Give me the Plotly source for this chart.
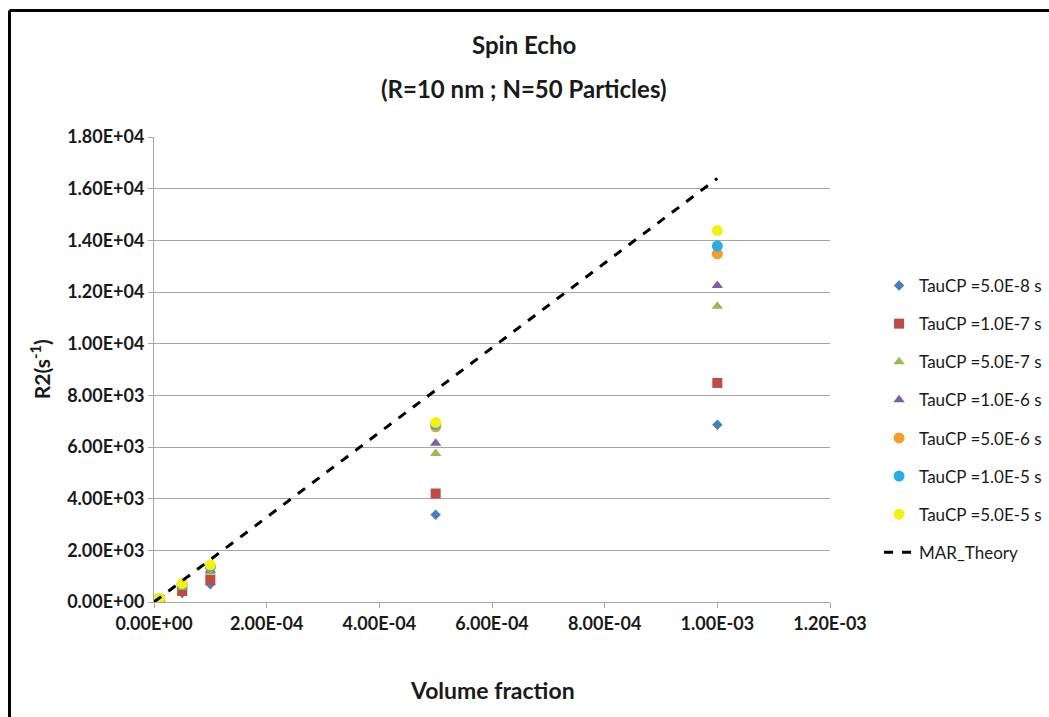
import plotly.graph_objects as go

# ---- data ----
volume_fraction = [1e-6, 5e-6, 1e-5, 5e-5, 1e-4, 5e-4, 1e-3]

series_names = [
    "TauCP =5.0E-8 s", "TauCP =1.0E-7 s", "TauCP =5.0E-7 s", "TauCP =1.0E-6 s",
    "TauCP =5.0E-6 s", "TauCP =1.0E-5 s", "TauCP =5.0E-5 s",
]
r2_tau_5e8 = [6.9, 34, 69, 345, 690, 3380, 6860]
r2_tau_1e7 = [8.5, 42, 85, 425, 850, 4200, 8480]
r2_tau_5e7 = [11.5, 57, 115, 575, 1150, 5750, 11450]
r2_tau_1e6 = [12.2, 61, 122, 612, 1225, 6150, 12250]
r2_tau_5e6 = [13.5, 67, 135, 675, 1350, 6780, 13480]
r2_tau_1e5 = [13.8, 69, 138, 690, 1380, 6880, 13780]
r2_tau_5e5 = [14.4, 72, 144, 720, 1440, 6950, 14380]

theory_x = [0, 1e-6, 5e-6, 1e-5, 5e-5, 1e-4, 5e-4, 1e-3]
theory_r2 = [0, 16.4, 82, 164, 820, 1640, 8200, 16400]

x_tickvals = [0, 2e-4, 4e-4, 6e-4, 8e-4, 1e-3, 1.2e-3]
x_ticktext = ["0.00E+00", "2.00E-04", "4.00E-04", "6.00E-04", "8.00E-04", "1.00E-03", "1.20E-03"]
y_tickvals = [0, 2000, 4000, 6000, 8000, 10000, 12000, 14000, 16000, 18000]
y_ticktext = ["0.00E+00", "2.00E+03", "4.00E+03", "6.00E+03", "8.00E+03",
              "1.00E+04", "1.20E+04", "1.40E+04", "1.60E+04", "1.80E+04"]

series_values = [r2_tau_5e8, r2_tau_1e7, r2_tau_5e7, r2_tau_1e6, r2_tau_5e6, r2_tau_1e5, r2_tau_5e5]
colors = ["#4A7EBB", "#BE4B48", "#98B954", "#7D60A0", "#F59D2A", "#27AEE6", "#F2F20F"]
symbols = ["diamond", "square", "triangle-up", "triangle-up", "circle", "circle", "circle"]
sizes = [8, 10, 10, 10, 11, 11, 11]

FONT = "Lato, 'Open Sans', sans-serif"

fig = go.Figure()
for i, (name, vals) in enumerate(zip(series_names, series_values)):
    fig.add_trace(go.Scatter(
        x=volume_fraction, y=vals, mode="markers", name=name,
        legendgroup=f"g{i}",
        marker=dict(symbol=symbols[i], color=colors[i], size=sizes[i], line=dict(width=0)),
    ))

fig.add_trace(go.Scatter(
    x=theory_x, y=theory_r2, mode="lines", name="MAR_Theory", legendgroup="g7",
    line=dict(color="black", width=3, dash="dash"),
))

axis_common = dict(
    showline=True, linecolor="#A6A6A6", linewidth=1,
    ticks="outside", ticklen=5, tickcolor="#A6A6A6",
    tickfont=dict(family=FONT, size=18, color="#1A1A1A", weight="bold"),
    zeroline=False,
)

fig.update_xaxes(range=[0, 1.2e-3], tickvals=x_tickvals, ticktext=x_ticktext,
                 showgrid=False, **axis_common)
fig.update_yaxes(range=[0, 18000], tickvals=y_tickvals, ticktext=y_ticktext,
                 showgrid=True, gridcolor="#A6A6A6", gridwidth=1, **axis_common)

annots = [
    dict(text="<b>Spin Echo</b>", x=0.548, y=1.198, size=24),
    dict(text="<b>(R=10 nm ; N=50 Particles)</b>", x=0.548, y=1.105, size=24),
    dict(text="<b>Volume fraction</b>", x=0.5, y=-0.19, size=23),
]
for a in annots:
    fig.add_annotation(text=a["text"], x=a["x"], y=a["y"], xref="paper", yref="paper",
                       showarrow=False, xanchor="center", yanchor="middle",
                       font=dict(family=FONT, size=a["size"], color="#1A1A1A"))
fig.add_annotation(text="<b>R2(s<sup>-1</sup>)</b>", x=-0.169, y=0.5, xref="paper", yref="paper",
                   showarrow=False, textangle=-90, xanchor="center", yanchor="middle",
                   font=dict(family=FONT, size=21, color="#1A1A1A"))

# outer frame (top and left edges visible)
fig.add_shape(type="line", xref="paper", yref="paper", x0=(9.5 - 154) / 676, x1=(1049 - 154) / 676,
              y0=(602 - 10.5) / 465, y1=(602 - 10.5) / 465, line=dict(color="black", width=3))
fig.add_shape(type="line", xref="paper", yref="paper", x0=(9.5 - 154) / 676, x1=(9.5 - 154) / 676,
              y0=(602 - 10.5) / 465, y1=(602 - 740) / 465, line=dict(color="black", width=3))

fig.update_layout(
    width=1049, height=717,
    margin=dict(l=154, r=219, t=137, b=115),
    paper_bgcolor="white", plot_bgcolor="white",
    showlegend=True,
    legend=dict(xref="container", yref="container", x=0.838, y=1 - 268 / 717,
                xanchor="left", yanchor="top", tracegroupgap=13, itemwidth=30,
                font=dict(family=FONT, size=17, color="#1A1A1A"), bgcolor="rgba(0,0,0,0)"),
    font=dict(family=FONT),
)

fig.write_html("out.html", config={"displayModeBar": False},
               post_script="document.body.style.margin='0';document.body.style.overflow='hidden';")
